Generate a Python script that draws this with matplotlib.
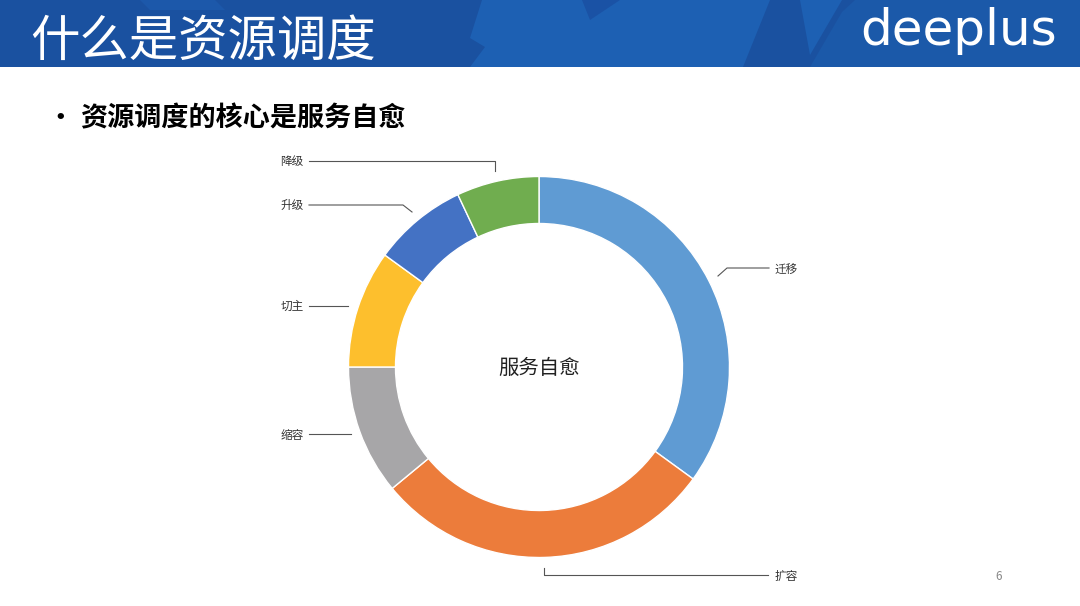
import matplotlib
matplotlib.use("Agg")
import matplotlib.pyplot as plt
from matplotlib.patches import Polygon, Rectangle

plt.rcParams['font.family'] = ['Noto Sans CJK SC', 'DejaVu Sans']

labels = ["迁移", "扩容", "缩容", "切主", "升级", "降级"]
values = [35, 29, 11, 10, 8, 7]
colors = ["#5f9bd3", "#ec7c3b", "#a7a6a8", "#fdbf2d", "#4472c4", "#70ad4f"]

# leader lines in slide pixels, y measured from the top
leaders = {
    "迁移": [(718, 276), (727, 268), (769, 268)],
    "扩容": [(544, 568), (544, 575), (768, 575)],
    "缩容": [(309, 434), (351, 434)],
    "切主": [(309, 306), (348, 306)],
    "升级": [(309, 205), (403, 205), (412, 212)],
    "降级": [(309, 161), (495, 161), (495, 171)],
}
label_pos = {
    "迁移": (774, 269),
    "扩容": (775, 576),
    "缩容": (281, 435),
    "切主": (281, 306),
    "升级": (280, 205),
    "降级": (280, 162),
}

W, H = 1080, 606
fig = plt.figure(figsize=(W / 100, H / 100), dpi=100, facecolor="white")
ax = fig.add_axes([0, 0, 1, 1])


def py(y):
    return H - y


# header band
ax.add_patch(Rectangle((0, py(67)), W, 67, color="#1a51a0", lw=0, zorder=0))
shapes = [
    ([(482, 0), (770, 0), (743, 67), (470, 67), (485, 47), (470, 38)], "#1d60b3"),
    ([(582, 0), (620, 0), (590, 20)], "#1a52a5"),
    ([(800, 0), (842, 0), (810, 55)], "#1d60b3"),
    ([(855, 0), (1080, 0), (1080, 67), (810, 67), (842, 12)], "#1b59a9"),
    ([(140, 0), (215, 0), (225, 10), (150, 10)], "#1c58aa"),
]
for pts, c in shapes:
    ax.add_patch(Polygon([(x, py(y)) for x, y in pts], closed=True, color=c, lw=0, zorder=1))

ax.text(30, py(42), "什么是资源调度", color="white", fontsize=35.6, fontweight="light", va="center", ha="left", zorder=3)
ax.text(860, py(45), "deeplus", color="white", fontsize=36, family="DejaVu Sans", va="baseline", ha="left", zorder=3)

ax.text(54, py(118), "•", color="black", fontsize=13, fontweight="bold", va="center", ha="left", family="DejaVu Sans")
ax.text(80, py(118), "资源调度的核心是服务自愈", color="black", fontsize=19.5, fontweight="bold", va="center", ha="left")

ax.pie(values, colors=colors, startangle=90, counterclock=False, center=(539, py(367)), radius=190.5,
       wedgeprops=dict(width=47, edgecolor="white", linewidth=1.0), frame=True)

ax.text(539, py(368), "服务自愈", color="#222222", fontsize=14.7, ha="center", va="center")

for name in labels:
    pts = leaders[name]
    ax.plot([p[0] for p in pts], [py(p[1]) for p in pts], color="#555555", lw=0.8)
    lx, ly = label_pos[name]
    ax.text(lx, py(ly), name, color="#333333", fontsize=8.4, ha="left", va="center")

ax.text(999, py(577), "6", color="#888888", fontsize=8.5, ha="center", va="center")

ax.set_xlim(0, W)
ax.set_ylim(0, H)
ax.axis("off")
fig.savefig("out.png", dpi=100)
